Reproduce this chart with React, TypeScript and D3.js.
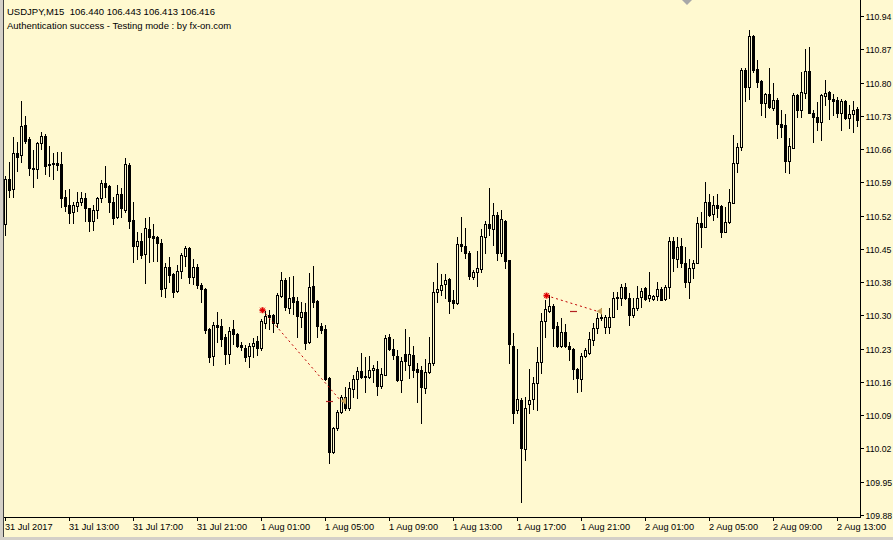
import React from 'react';
import * as d3 from 'd3';

const W = 893;
const H = 540;

// USDJPY M15 bars, starting 31 Jul 2017 09:00
const openPrices = [
  110.498,110.594,110.573,110.649,110.645,110.709,110.679,110.618,110.615,110.671,
  110.686,110.626,110.626,110.628,110.626,110.556,110.538,110.524,110.536,110.545,
  110.554,110.532,110.504,110.528,110.554,110.586,110.579,110.545,110.513,110.562,
  110.528,110.624,110.507,110.451,110.462,110.434,110.487,110.473,110.470,110.458,
  110.362,110.407,110.392,110.356,110.398,110.430,110.447,110.385,110.407,110.368,
  110.360,110.275,110.218,110.284,110.282,110.258,110.222,110.275,110.265,110.241,
  110.235,110.218,110.239,110.250,110.235,110.288,110.305,110.305,110.288,110.345,
  110.379,110.320,110.343,110.335,110.301,110.312,110.248,110.366,110.335,110.282,
  110.275,110.171,110.014,110.065,110.099,110.131,110.107,110.148,110.169,110.186,
  110.176,110.174,110.188,110.190,110.154,110.178,110.258,110.233,110.218,110.167,
  110.222,110.199,110.220,110.190,110.188,110.150,110.184,110.203,110.354,110.358,
  110.371,110.381,110.337,110.331,110.455,110.451,110.436,110.385,110.396,110.403,
  110.470,110.498,110.487,110.517,110.436,110.504,110.422,110.239,110.103,110.124,
  110.020,110.116,110.126,110.161,110.205,110.292,110.314,110.324,110.282,110.239,
  110.269,110.239,110.233,110.190,110.169,110.218,110.224,110.252,110.278,110.301,
  110.280,110.280,110.301,110.341,110.341,110.364,110.341,110.305,110.320,110.343,
  110.362,110.341,110.339,110.345,110.360,110.339,110.364,110.462,110.424,110.451,
  110.415,110.375,110.405,110.415,110.500,110.492,110.545,110.519,110.538,110.536,
  110.481,110.502,110.543,110.628,110.662,110.825,110.789,110.898,110.827,110.802,
  110.756,110.774,110.745,110.762,110.711,110.709,110.632,110.660,110.772,110.741,
  110.776,110.823,110.734,110.726,110.715,110.770,110.779,110.764,110.762,110.734,
  110.760,110.724,110.732,110.743,
];

const highPrices = [
  110.601,110.630,110.683,110.673,110.760,110.728,110.683,110.656,110.673,110.694,
  110.690,110.664,110.649,110.652,110.652,110.571,110.573,110.545,110.567,110.567,
  110.564,110.532,110.538,110.556,110.592,110.622,110.581,110.556,110.581,110.575,
  110.639,110.628,110.545,110.481,110.479,110.511,110.513,110.498,110.473,110.466,
  110.415,110.428,110.394,110.411,110.436,110.451,110.449,110.424,110.413,110.373,
  110.362,110.278,110.290,110.312,110.297,110.265,110.280,110.295,110.267,110.248,
  110.241,110.246,110.256,110.261,110.297,110.314,110.316,110.307,110.351,110.396,
  110.383,110.385,110.387,110.343,110.333,110.331,110.394,110.409,110.337,110.288,
  110.284,110.174,110.067,110.103,110.135,110.152,110.163,110.178,110.195,110.224,
  110.216,110.218,110.199,110.207,110.193,110.263,110.265,110.254,110.231,110.216,
  110.275,110.258,110.239,110.203,110.197,110.212,110.258,110.375,110.415,110.392,
  110.392,110.383,110.358,110.470,110.513,110.490,110.441,110.400,110.441,110.487,
  110.504,110.575,110.543,110.524,110.528,110.507,110.422,110.267,110.233,110.129,
  110.131,110.190,110.174,110.237,110.309,110.337,110.347,110.329,110.290,110.299,
  110.286,110.248,110.235,110.193,110.224,110.235,110.269,110.288,110.309,110.320,
  110.305,110.320,110.354,110.354,110.371,110.373,110.351,110.341,110.366,110.362,
  110.364,110.396,110.347,110.375,110.364,110.368,110.470,110.470,110.470,110.468,
  110.449,110.424,110.422,110.513,110.524,110.588,110.562,110.558,110.562,110.538,
  110.534,110.573,110.688,110.671,110.830,110.830,110.910,110.900,110.847,110.804,
  110.776,110.830,110.798,110.766,110.741,110.732,110.681,110.776,110.774,110.821,
  110.870,110.874,110.741,110.758,110.774,110.804,110.781,110.774,110.768,110.764,
  110.762,110.751,110.760,110.747,
];

const lowPrices = [
  110.475,110.556,110.556,110.611,110.630,110.671,110.603,110.577,110.596,110.658,
  110.605,110.601,110.594,110.613,110.534,110.526,110.500,110.500,110.526,110.538,
  110.504,110.483,110.485,110.511,110.545,110.556,110.524,110.498,110.511,110.513,
  110.524,110.490,110.417,110.424,110.426,110.373,110.417,110.419,110.419,110.345,
  110.343,110.375,110.343,110.354,110.383,110.409,110.373,110.371,110.362,110.333,
  110.267,110.205,110.199,110.248,110.239,110.201,110.203,110.244,110.237,110.231,
  110.207,110.195,110.216,110.220,110.231,110.278,110.275,110.269,110.280,110.343,
  110.316,110.309,110.307,110.258,110.280,110.233,110.246,110.322,110.258,110.267,
  110.167,109.990,110.012,110.061,110.097,110.103,110.103,110.131,110.129,110.171,
  110.142,110.171,110.163,110.135,110.150,110.178,110.231,110.212,110.165,110.142,
  110.188,110.171,110.174,110.120,110.075,110.139,110.182,110.199,110.333,110.347,
  110.341,110.309,110.320,110.329,110.441,110.426,110.381,110.381,110.366,110.396,
  110.436,110.475,110.453,110.422,110.430,110.405,110.203,110.075,110.097,109.908,
  109.997,110.097,110.105,110.103,110.182,110.258,110.312,110.239,110.237,110.237,
  110.237,110.210,110.169,110.142,110.144,110.216,110.222,110.241,110.267,110.295,
  110.267,110.267,110.301,110.318,110.326,110.339,110.284,110.301,110.316,110.322,
  110.337,110.335,110.337,110.337,110.337,110.337,110.341,110.398,110.407,110.407,
  110.364,110.341,110.383,110.415,110.449,110.492,110.515,110.507,110.513,110.470,
  110.481,110.500,110.543,110.609,110.656,110.760,110.764,110.821,110.789,110.730,
  110.726,110.745,110.741,110.681,110.683,110.609,110.607,110.660,110.726,110.726,
  110.766,110.734,110.673,110.698,110.677,110.751,110.722,110.730,110.726,110.698,
  110.722,110.703,110.694,110.707,
];

const closePrices = [
  110.594,110.571,110.649,110.641,110.707,110.675,110.618,110.615,110.671,110.686,
  110.622,110.624,110.628,110.624,110.554,110.536,110.521,110.538,110.545,110.554,
  110.532,110.504,110.528,110.554,110.586,110.577,110.545,110.511,110.562,110.532,
  110.626,110.504,110.451,110.462,110.432,110.490,110.470,110.468,110.458,110.360,
  110.407,110.390,110.354,110.398,110.432,110.447,110.385,110.407,110.368,110.360,
  110.273,110.216,110.284,110.280,110.254,110.222,110.271,110.265,110.239,110.237,
  110.216,110.239,110.246,110.235,110.292,110.303,110.301,110.288,110.347,110.379,
  110.322,110.341,110.333,110.303,110.312,110.246,110.364,110.333,110.282,110.273,
  110.169,110.014,110.065,110.099,110.131,110.107,110.150,110.169,110.186,110.174,
  110.174,110.188,110.193,110.154,110.180,110.256,110.233,110.220,110.167,110.207,
  110.207,110.222,110.188,110.184,110.152,110.184,110.203,110.354,110.360,110.368,
  110.379,110.335,110.331,110.455,110.451,110.436,110.387,110.396,110.405,110.473,
  110.498,110.490,110.517,110.436,110.509,110.419,110.243,110.097,110.126,110.022,
  110.107,110.124,110.161,110.205,110.292,110.318,110.324,110.278,110.239,110.269,
  110.239,110.233,110.190,110.171,110.218,110.231,110.254,110.278,110.299,110.299,
  110.301,110.301,110.341,110.343,110.364,110.341,110.305,110.320,110.341,110.356,
  110.339,110.347,110.345,110.360,110.337,110.364,110.462,110.426,110.449,110.415,
  110.375,110.405,110.415,110.500,110.492,110.545,110.517,110.538,110.532,110.481,
  110.502,110.545,110.628,110.662,110.825,110.789,110.898,110.825,110.800,110.756,
  110.774,110.747,110.762,110.711,110.705,110.632,110.664,110.772,110.741,110.779,
  110.823,110.734,110.726,110.715,110.772,110.776,110.764,110.760,110.734,110.760,
  110.724,110.732,110.741,110.720,
];

const timeLabels = [
  '31 Jul 2017', '31 Jul 13:00', '31 Jul 17:00', '31 Jul 21:00',
  '1 Aug 01:00', '1 Aug 05:00', '1 Aug 09:00', '1 Aug 13:00',
  '1 Aug 17:00', '1 Aug 21:00', '2 Aug 01:00', '2 Aug 05:00',
  '2 Aug 09:00', '2 Aug 13:00',
];
const barsPerTimeLabel = 16;

const priceLabels = [
  '110.94', '110.87', '110.80', '110.73', '110.66', '110.59', '110.52', '110.45',
  '110.38', '110.30', '110.23', '110.16', '110.09', '110.02', '109.95', '109.88',
];
const priceTop = 110.94;
const priceBottom = 109.88;

const headerLine1 = 'USDJPY,M15  106.440 106.443 106.413 106.416';
const headerLine2 = 'Authentication success - Testing mode : by fx-on.com';

const tradeEntryBars = [64, 135];
const tradeEntryPrices = [110.315, 110.346];
const tradeExitBars = [85, 149];
const tradeExitPrices = [110.122, 110.313];
const tradeMarkBars = [81, 142];

const BG = '#FFF9D0';
const FONT = '"Liberation Sans", Arial, sans-serif';

export default function App() {
  const n = openPrices.length;
  const plotLeft = 4;
  const plotRight = 860;
  const plotBottom = 517;
  const firstBarX = 5;
  const barStep = 4;

  const x = d3.scaleLinear().domain([0, n - 1]).range([firstBarX, firstBarX + barStep * (n - 1)]);
  const y = d3.scaleLinear().domain([priceBottom, priceTop]).range([515, 16]);
  const px = (i: number) => Math.round(x(i));
  const py = (p: number) => Math.round(y(p));

  const priceTickValues = priceLabels.map((_, j) =>
    priceTop - (j * (priceTop - priceBottom)) / (priceLabels.length - 1)
  );

  const candles = d3.range(n).map((i) => {
    const c = px(i);
    const o = py(openPrices[i]);
    const cl = py(closePrices[i]);
    const h = py(highPrices[i]);
    const l = py(lowPrices[i]);
    const bull = closePrices[i] >= openPrices[i];
    const top = Math.min(o, cl);
    const bot = Math.max(o, cl);
    let body;
    if (bot - top < 1) {
      body = <rect x={c - 1} y={top} width={3} height={1} fill="#000" />;
    } else if (bull) {
      body = (
        <rect x={c - 0.5} y={top + 0.5} width={2} height={bot - top} fill={BG} stroke="#000" strokeWidth={1} />
      );
    } else {
      body = <rect x={c - 1} y={top} width={3} height={bot - top + 1} fill="#000" />;
    }
    return (
      <g key={i}>
        <line x1={c + 0.5} x2={c + 0.5} y1={h} y2={l + 1} stroke="#000" strokeWidth={1} />
        {body}
      </g>
    );
  });

  const trades = tradeEntryBars.map((eb, k) => {
    const sx = px(eb) + 1.5;
    const sy = y(tradeEntryPrices[k]);
    const ex = px(tradeExitBars[k]);
    const ey = y(tradeExitPrices[k]);
    const mx = px(tradeMarkBars[k]);
    return (
      <g key={k}>
        <line x1={sx} y1={sy} x2={ex - 4} y2={ey} stroke="#c00000" strokeWidth={1} strokeDasharray="2,3" />
        <line x1={mx - 3} x2={mx + 4} y1={Math.round(ey) + 0.5} y2={Math.round(ey) + 0.5} stroke="#b22222" strokeWidth={1.2} />
        <polygon
          points={`${ex - 4.5},${ey} ${ex + 1},${ey - 3.5} ${ex + 1},${ey + 3.5}`}
          fill="#c8a25a"
        />
        <g stroke="#e00000">
          <line x1={sx - 3} x2={sx + 3} y1={sy} y2={sy} strokeWidth={2} />
          <line x1={sx} x2={sx} y1={sy - 3} y2={sy + 3} strokeWidth={2} />
          <line x1={sx - 2.5} x2={sx + 2.5} y1={sy - 2.5} y2={sy + 2.5} strokeWidth={1} />
          <line x1={sx - 2.5} x2={sx + 2.5} y1={sy + 2.5} y2={sy - 2.5} strokeWidth={1} />
        </g>
      </g>
    );
  });

  return (
    <div style={{ position: 'absolute', left: 0, top: 0, width: W, height: H, overflow: 'hidden' }}>
      <svg width={W} height={H} style={{ display: 'block' }} fontFamily={FONT}>
        <rect x={0} y={0} width={W} height={H} fill={BG} />
        {/* window frame */}
        <rect x={0} y={0} width={3} height={H} fill="#d4d0c8" />
        <rect x={0} y={537} width={W} height={3} fill="#d4d0c8" />
        <line x1={3.5} x2={3.5} y1={0} y2={537} stroke="#404040" />

        {/* header text */}
        <text x={7} y={15} fontSize={9.5} fill="#000" style={{ whiteSpace: 'pre' }}>{headerLine1}</text>
        <text x={7} y={29} fontSize={9.5} fill="#000">{headerLine2}</text>

        {/* chart shift marker */}
        <polygon points="682,0 692,0 687,5" fill="#a8a8a8" />

        <g>{candles}</g>
        <g>{trades}</g>

        {/* axes */}
        <line x1={plotRight + 0.5} x2={plotRight + 0.5} y1={0} y2={plotBottom + 1} stroke="#000" />
        <line x1={plotLeft} x2={plotRight + 1} y1={plotBottom + 0.5} y2={plotBottom + 0.5} stroke="#000" />

        {priceTickValues.map((v, j) => {
          const ty = Math.round(y(v));
          return (
            <g key={'p' + j}>
              <line x1={plotRight} x2={plotRight + 4} y1={ty + 0.5} y2={ty + 0.5} stroke="#000" />
              <text x={865.5} y={ty + 3.5} fontSize={8.7} fill="#000">{priceLabels[j]}</text>
            </g>
          );
        })}

        {timeLabels.map((lab, j) => {
          const tx = px(j * barsPerTimeLabel);
          return (
            <g key={'t' + j}>
              <line x1={tx + 0.5} x2={tx + 0.5} y1={plotBottom} y2={plotBottom + 4} stroke="#000" />
              <text x={tx} y={529.5} fontSize={9.2} fill="#000">{lab}</text>
            </g>
          );
        })}
      </svg>
    </div>
  );
}
